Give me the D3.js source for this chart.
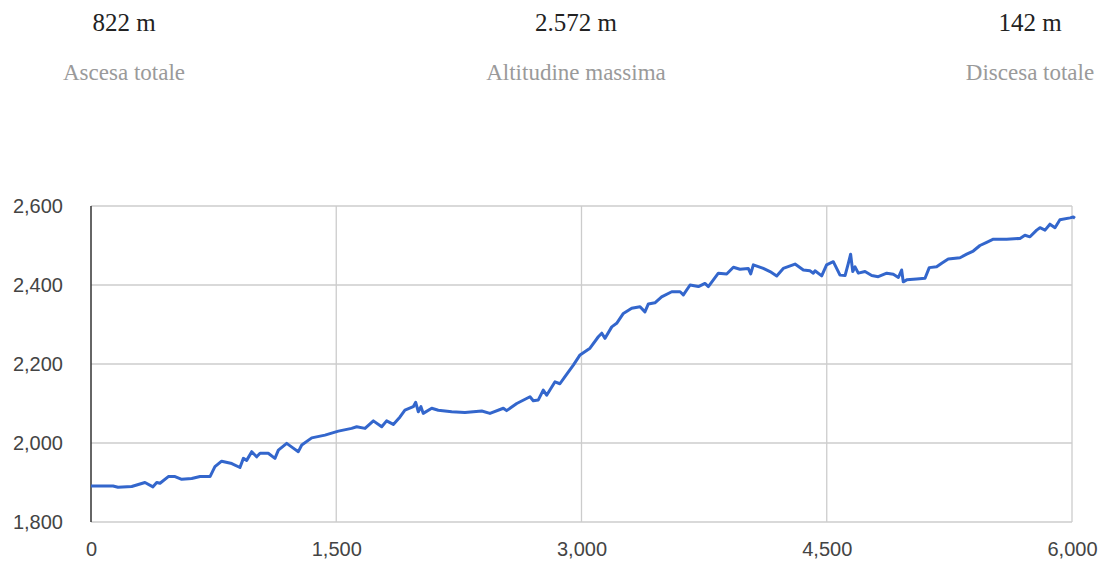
<!DOCTYPE html>
<html>
<head>
<meta charset="utf-8">
<script src="https://cdn.jsdelivr.net/npm/d3@7"></script>
<style>
    body { margin: 0; background: #fff; }
</style>
</head>
<body>
<div id="chart"></div>
<script>
// summary figures shown above the chart
const statValues = ['822 m', '2.572 m', '142 m'];
const statLabels = ['Ascesa totale', 'Altitudine massima', 'Discesa totale'];

// elevation profile (distance in m, altitude in m)
const distance = [0, 135, 165, 249, 330, 379, 402, 422, 473, 514, 555, 616, 667, 728, 758, 799, 861, 911, 932, 952,
    983, 1013, 1034, 1084, 1125, 1146, 1197, 1237, 1268, 1289, 1350, 1431, 1513, 1594, 1625, 1676, 1727, 1778, 1808, 1849,
    1890, 1920, 1971, 1986, 2002, 2018, 2032, 2084, 2124, 2206, 2287, 2390, 2440, 2522, 2542, 2604, 2685, 2705, 2736, 2766,
    2787, 2838, 2868, 2899, 2950, 2991, 3052, 3103, 3124, 3144, 3185, 3215, 3256, 3307, 3358, 3388, 3409, 3449, 3490, 3552,
    3603, 3623, 3664, 3715, 3755, 3776, 3837, 3888, 3929, 3969, 4020, 4035, 4051, 4112, 4153, 4194, 4234, 4306, 4357, 4397,
    4418, 4428, 4469, 4499, 4540, 4581, 4612, 4632, 4646, 4659, 4673, 4693, 4734, 4775, 4815, 4867, 4907, 4938, 4958, 4968,
    4989, 5050, 5101, 5127, 5172, 5203, 5243, 5315, 5356, 5396, 5437, 5478, 5519, 5600, 5682, 5712, 5743, 5784, 5804, 5835,
    5865, 5896, 5926, 5988, 6008, 6018];
const altitude = [1891, 1891, 1888, 1890, 1900, 1889, 1900, 1898, 1915, 1915, 1908, 1910, 1915, 1915, 1940, 1954, 1948, 1938, 1961, 1956,
    1978, 1965, 1974, 1974, 1961, 1982, 1999, 1987, 1978, 1995, 2013, 2020, 2030, 2037, 2041, 2037, 2056, 2041, 2056, 2047,
    2066, 2083, 2092, 2103, 2079, 2092, 2075, 2088, 2083, 2079, 2077, 2081, 2075, 2088, 2082, 2100, 2117, 2107, 2109, 2134,
    2121, 2155, 2150, 2168, 2197, 2223, 2240, 2269, 2278, 2265, 2294, 2303, 2328, 2341, 2345, 2332, 2352, 2355, 2370, 2383,
    2383, 2375, 2400, 2396, 2404, 2396, 2430, 2428, 2445, 2440, 2442, 2428, 2451, 2442, 2434, 2423, 2442, 2453, 2438, 2436,
    2430, 2436, 2423, 2451, 2459, 2425, 2424, 2455, 2478, 2434, 2446, 2430, 2434, 2424, 2421, 2430, 2427, 2419, 2438, 2408,
    2413, 2415, 2417, 2444, 2446, 2455, 2466, 2469, 2478, 2486, 2500, 2508, 2516, 2516, 2518, 2526, 2522, 2539, 2545, 2539,
    2554, 2545, 2565, 2570, 2572, 2569];

const xTicks = [0, 1500, 3000, 4500, 6000];
const yTicks = [1800, 2000, 2200, 2400, 2600];

const width = 1100, height = 563;
const margin = { left: 91, right: 28, top: 206, bottom: 41 };

const svg = d3.select('#chart')
    .append('svg')
    .attr('width', width)
    .attr('height', height);

// header stats
const statX = [124, 576, 1030];
svg.selectAll('.stat-value')
    .data(statValues)
    .enter().append('text')
    .attr('x', (d, i) => statX[i])
    .attr('y', 31)
    .attr('text-anchor', 'middle')
    .attr('font-family', '"Liberation Serif", "Times New Roman", serif')
    .attr('font-size', 25)
    .attr('fill', '#222')
    .text(d => d);

svg.selectAll('.stat-label')
    .data(statLabels)
    .enter().append('text')
    .attr('x', (d, i) => statX[i])
    .attr('y', 80)
    .attr('text-anchor', 'middle')
    .attr('font-family', '"Liberation Serif", "Times New Roman", serif')
    .attr('font-size', 23)
    .attr('fill', '#9a9a9a')
    .text(d => d);

const x = d3.scaleLinear().domain([0, 6000]).range([margin.left, width - margin.right]);
const y = d3.scaleLinear().domain([1800, 2600]).range([height - margin.bottom, margin.top]);

// gridlines
svg.append('g')
    .selectAll('line')
    .data(yTicks)
    .enter().append('line')
    .attr('x1', x(0)).attr('x2', x(6000))
    .attr('y1', d => y(d)).attr('y2', d => y(d))
    .attr('stroke', '#cccccc')
    .attr('stroke-width', 1.3);

svg.append('g')
    .selectAll('line')
    .data(xTicks.slice(1))
    .enter().append('line')
    .attr('x1', d => x(d)).attr('x2', d => x(d))
    .attr('y1', y(1800)).attr('y2', y(2600))
    .attr('stroke', '#cccccc')
    .attr('stroke-width', 1.3);

// axes (labels only, Google-chart style)
const yAxis = svg.append('g')
    .attr('transform', `translate(${x(0) - 25},0)`)
    .call(d3.axisLeft(y).tickValues(yTicks).tickSize(0).tickFormat(d3.format(',')));
const xAxis = svg.append('g')
    .attr('transform', `translate(0,${y(1800) + 17})`)
    .call(d3.axisBottom(x).tickValues(xTicks).tickSize(0).tickFormat(d3.format(',')));

[yAxis, xAxis].forEach(g => {
    g.select('.domain').remove();
    g.selectAll('text')
        .attr('font-family', '"Liberation Sans", Arial, sans-serif')
        .attr('font-size', 20)
        .attr('fill', '#444');
});

// left axis line
svg.append('line')
    .attr('x1', x(0)).attr('x2', x(0))
    .attr('y1', y(1800)).attr('y2', y(2600))
    .attr('stroke', '#333')
    .attr('stroke-width', 1.5);

const points = distance.map((d, i) => [d, altitude[i]]);
const line = d3.line()
    .x(d => x(d[0]))
    .y(d => y(d[1]));

svg.append('path')
    .datum(points)
    .attr('d', line)
    .attr('fill', 'none')
    .attr('stroke', '#3366cc')
    .attr('stroke-width', 3)
    .attr('stroke-linejoin', 'round');
</script>
</body>
</html>
